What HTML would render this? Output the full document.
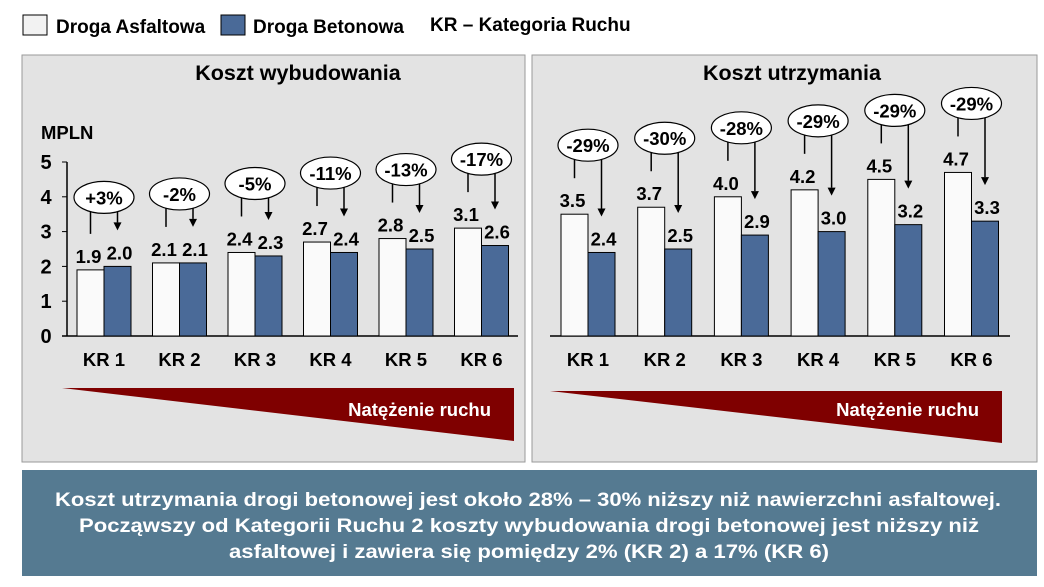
<!DOCTYPE html>
<html><head><meta charset="utf-8"><style>
body{margin:0;width:1044px;height:582px;background:#fff;font-family:"Liberation Sans",Arial,sans-serif;overflow:hidden}
svg text{font-family:"Liberation Sans",Arial,sans-serif;font-weight:bold}
</style></head><body>
<svg id="s" width="1044" height="582" xmlns="http://www.w3.org/2000/svg">
<g>
<rect x="23" y="15" width="24" height="20" fill="#f2f2f2" stroke="#000"/>
<text x="56" y="33" font-size="19">Droga Asfaltowa</text>
<rect x="221" y="15" width="24" height="20" fill="#4a6a98" stroke="#000"/>
<text x="253" y="33" font-size="19">Droga Betonowa</text>
<text x="430" y="31" font-size="19">KR – Kategoria Ruchu</text>
</g>
<rect x="22" y="55" width="503" height="407" fill="#e3e3e3" stroke="#999"/>
<rect x="532" y="55" width="505" height="407" fill="#e3e3e3" stroke="#999"/>
<text x="298" y="80" font-size="21.5" text-anchor="middle">Koszt wybudowania</text>
<text x="792" y="80" font-size="21.5" text-anchor="middle">Koszt utrzymania</text>
<text x="41" y="139" font-size="18.5">MPLN</text>
<polygon points="62,388 514,388 514,441" fill="#7f0000"/>
<text x="491" y="416" font-size="18.5" fill="#fff" text-anchor="end">Natężenie ruchu</text>
<polygon points="550,391 1002,391 1002,443" fill="#7f0000"/>
<text x="979" y="416" font-size="18.5" fill="#fff" text-anchor="end">Natężenie ruchu</text>
<rect x="22" y="470" width="1015" height="106" fill="#557a91"/>
<text x="55" y="506" font-size="19.5" fill="#fff" textLength="946" lengthAdjust="spacingAndGlyphs">Koszt utrzymania drogi betonowej jest około 28% – 30% niższy niż nawierzchni asfaltowej.</text>
<text x="79" y="532" font-size="19.5" fill="#fff" textLength="900" lengthAdjust="spacingAndGlyphs">Począwszy od Kategorii Ruchu 2 koszty wybudowania drogi betonowej jest niższy niż</text>
<text x="229" y="558" font-size="19.5" fill="#fff" textLength="600" lengthAdjust="spacingAndGlyphs">asfaltowej i zawiera się pomiędzy 2% (KR 2) a 17% (KR 6)</text>
</svg>
<script>
const categories=["KR 1","KR 2","KR 3","KR 4","KR 5","KR 6"];
const buildAsphalt=[1.9,2.1,2.4,2.7,2.8,3.1];
const buildConcrete=[2.0,2.1,2.3,2.4,2.5,2.6];
const buildPct=["+3%","-2%","-5%","-11%","-13%","-17%"];
const maintAsphalt=[3.5,3.7,4.0,4.2,4.5,4.7];
const maintConcrete=[2.4,2.5,2.9,3.0,3.2,3.3];
const maintPct=["-29%","-30%","-28%","-29%","-29%","-29%"];
const yTicks=[0,1,2,3,4,5];
const NS="http://www.w3.org/2000/svg",svg=document.getElementById('s');
function mk(t,a){const e=document.createElementNS(NS,t);for(const k in a)e.setAttribute(k,a[k]);svg.appendChild(e);return e;}
const base=336,unit=34.8;
function y(v){return base-v*unit;}
function drawChart(p,x0,step,axL,axR,A,B,P,showY){
  const ax=mk('line',{x1:axL,y1:base,x2:axR,y2:base,stroke:'#000','stroke-width':1.5});
  
  
  if(showY){
    const ya=mk('line',{x1:67,y1:y(5),x2:67,y2:base,stroke:'#000','stroke-width':1.5});
    
    
    yTicks.forEach(t=>{
      const tk=mk('line',{x1:62,y1:y(t),x2:67,y2:y(t),stroke:'#000'});
      
      
      const tl=mk('text',{x:46,y:y(t)+7,'font-size':20,'text-anchor':'middle'});
      tl.textContent=t;
      
      
    });
  }
  categories.forEach((c,i)=>{
    const xa=x0+i*step,w=27,xb=xa+w,cx=xa+w;
    const r1=mk('rect',{x:xa,y:y(A[i]),width:w,height:A[i]*unit,fill:'#fafafa',stroke:'#000'});
    
    
    const r2=mk('rect',{x:xb,y:y(B[i]),width:w,height:B[i]*unit,fill:'#4a6a98',stroke:'#000'});
    
    
    const l1=mk('text',{x:xa+w/2-2,y:y(A[i])-7,'font-size':18.5,'text-anchor':'middle'});
    l1.textContent=A[i].toFixed(1);
    
    
    const l2=mk('text',{x:xb+w/2+2,y:y(B[i])-7,'font-size':18.5,'text-anchor':'middle'});
    l2.textContent=B[i].toFixed(1);
    
    
    const cy=y(Math.max(A[i],B[i]))-69;
    const ln=mk('line',{x1:xa+w/2,y1:cy+14,x2:xa+w/2,y2:y(A[i])-36,stroke:'#000','stroke-width':1.5});
    
    
    const ar=mk('line',{x1:xb+w/2,y1:cy+14,x2:xb+w/2,y2:y(B[i])-44,stroke:'#000','stroke-width':1.5});
    
    
    const hd=mk('polygon',{points:`${xb+w/2-4},${y(B[i])-44} ${xb+w/2+4},${y(B[i])-44} ${xb+w/2},${y(B[i])-36}`,fill:'#000'});
    
    
    const el=mk('ellipse',{cx:cx,cy:cy,rx:30,ry:16,fill:'#fff',stroke:'#000','stroke-width':1.2});
    
    
    const pt=mk('text',{x:cx,y:cy+7,'font-size':18.5,'text-anchor':'middle'});
    pt.textContent=P[i];
    
    
    const cl=mk('text',{x:cx,y:366,'font-size':18.5,'text-anchor':'middle'});
    cl.textContent=c;
    
    
  });
}
drawChart('build',77,75.5,62,518,buildAsphalt,buildConcrete,buildPct,true);
drawChart('maint',561,76.7,550,1010,maintAsphalt,maintConcrete,maintPct,false);
</script>
</body></html>
